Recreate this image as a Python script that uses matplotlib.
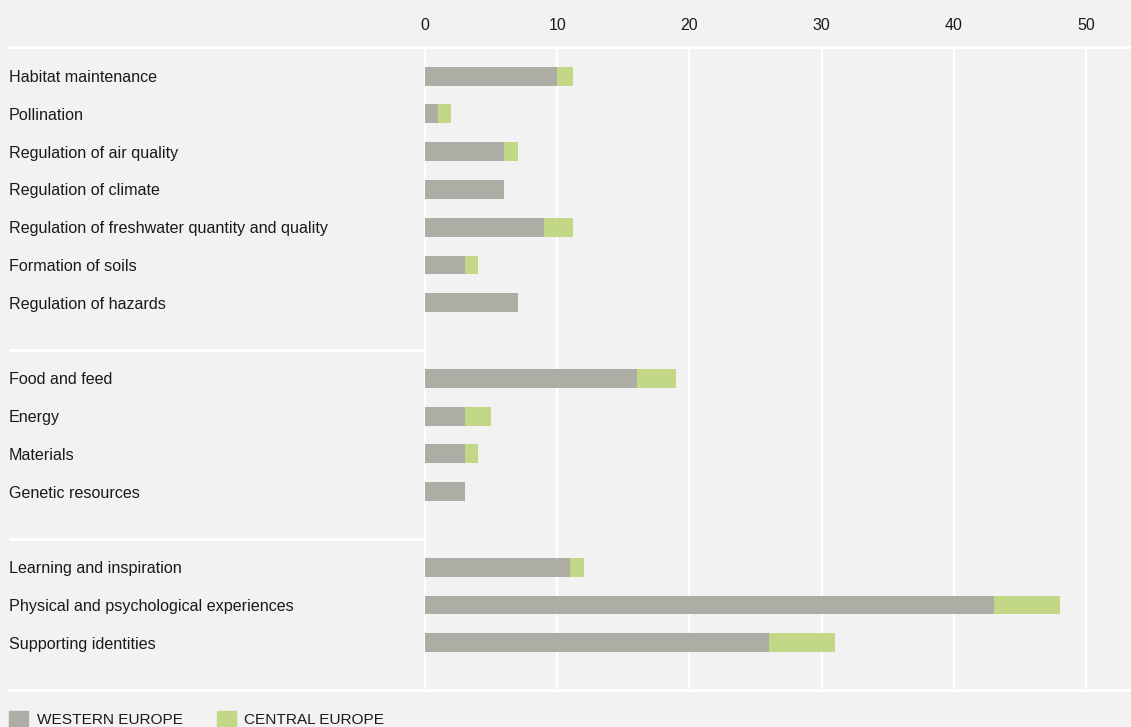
import matplotlib.pyplot as plt
from matplotlib.patches import Patch

plt.rcParams['font.family'] = ['Liberation Sans', 'DejaVu Sans']

groups = [
    ['Habitat maintenance', 'Pollination', 'Regulation of air quality',
     'Regulation of climate', 'Regulation of freshwater quantity and quality',
     'Formation of soils', 'Regulation of hazards'],
    ['Food and feed', 'Energy', 'Materials', 'Genetic resources'],
    ['Learning and inspiration', 'Physical and psychological experiences',
     'Supporting identities'],
]
western = [10, 1, 6, 6, 9, 3, 7, 16, 3, 3, 3, 11, 43, 26]
central = [1.2, 1, 1, 0, 2.2, 1, 0, 3, 2, 1, 0, 1, 5, 5]
series_names = ['WESTERN EUROPE', 'CENTRAL EUROPE']
ticks = [0, 10, 20, 30, 40, 50]

bg = '#f2f2f2'
c_west = '#adada5'
c_cent = '#c2d887'
txt = '#1a1a1a'

# row positions: each group gets one empty slot after it
labels, ypos, seps = [], [], []
slot = 0
for g in groups:
    for name in g:
        labels.append(name)
        ypos.append(slot)
        slot += 1
    seps.append(slot + 0.25)
    slot += 1

W, H = 1131, 727
fig = plt.figure(figsize=(W / 100, H / 100), dpi=100)
fig.patch.set_facecolor(bg)
ax = fig.add_axes([9 / W, 1 - 690 / H, 1 - 9 / W, (690 - 47) / H])
ax.set_facecolor(bg)

px = (1086.2 - 425.0) / 50
xmin = -(425.0 - 9) / px
xmax = 50 + (W - 1086.2) / px
ax.set_xlim(xmin, xmax)
ax.set_ylim(seps[-1], -0.77)

for t in ticks:
    ax.axvline(t, color='white', lw=1.6, zorder=1)

ax.barh(ypos, western, height=0.5, color=c_west, zorder=2)
ax.barh(ypos, central, left=western, height=0.5, color=c_cent, zorder=2)

for s in seps[:-1]:
    ax.hlines(s, xmin, 0, color='white', lw=2.2, zorder=1)

for y, name in zip(ypos, labels):
    ax.text(xmin, y, name, ha='left', va='center_baseline', fontsize=11.6,
            color=txt)

ax.xaxis.tick_top()
ax.set_xticks(ticks)
ax.set_xticklabels([str(t) for t in ticks], fontsize=11.5, color=txt)
ax.tick_params(axis='x', length=0, pad=10)
ax.set_yticks([])
for side in ['left', 'right']:
    ax.spines[side].set_visible(False)
for side in ['top', 'bottom']:
    ax.spines[side].set_color('white')
    ax.spines[side].set_linewidth(2.2)

handles = [Patch(color=c_west), Patch(color=c_cent)]
fig.legend(handles, series_names, loc='upper left',
           bbox_to_anchor=(9 / W, 1 - 711 / H), ncol=2, frameon=False,
           fontsize=11.1, handlelength=1.25, handleheight=1.25,
           handletextpad=0.55, columnspacing=2.2, borderpad=0,
           borderaxespad=0, labelcolor=txt)

fig.savefig('out.png', dpi=100, facecolor=bg)
